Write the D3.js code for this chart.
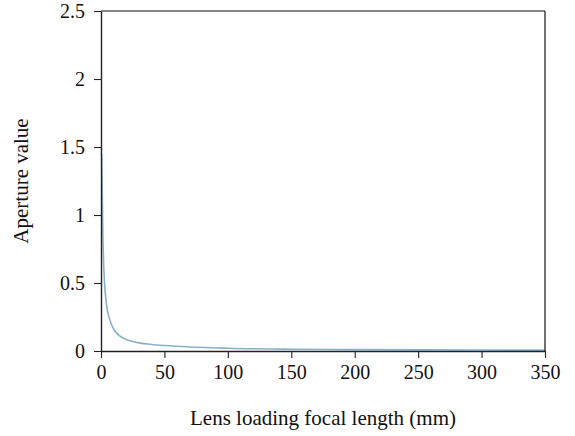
<!DOCTYPE html>
<html>
<head>
<meta charset="utf-8">
<script src="https://cdn.jsdelivr.net/npm/d3@7"></script>
<style>
  html, body { margin: 0; padding: 0; background: #fff; }
</style>
</head>
<body>
<svg id="chart" width="575" height="436"></svg>
<script>
// Data
const focalLength = [0.5, 0.8, 1, 1.5, 2, 2.5, 3, 4, 5, 6, 8, 10, 12, 15, 20, 25, 30, 40, 50, 70, 100, 150, 200, 250, 300, 350];
const apertureValue = [1.45, 1.3, 1.15, 0.85, 0.66, 0.55, 0.47, 0.37, 0.3, 0.26, 0.2, 0.16, 0.135, 0.11, 0.085, 0.07, 0.06, 0.048, 0.04, 0.029, 0.02, 0.013, 0.01, 0.008, 0.007, 0.006];
const xTicks = [0, 50, 100, 150, 200, 250, 300, 350];
const yTicks = [0, 0.5, 1, 1.5, 2, 2.5];
const xTitle = "Lens loading focal length (mm)";
const yTitle = "Aperture value";

(function () {
const FONT = "'Liberation Serif', 'Times New Roman', Times, 'DejaVu Serif', serif";
const svg = d3.select("#chart");
const mLeft = 101, mRight = 545, mTop = 11, mBottom = 351;

const x = d3.scaleLinear().domain([0, 350]).range([mLeft, mRight]);
const y = d3.scaleLinear().domain([0, 2.5]).range([mBottom, mTop]);

const line = d3.line()
  .x((d, i) => x(focalLength[i]))
  .y(d => y(d))
  .curve(d3.curveMonotoneX);

svg.append("path")
  .datum(apertureValue)
  .attr("d", line)
  .attr("fill", "none")
  .attr("stroke", "#8ab0c9")
  .attr("stroke-width", 1.6);

svg.append("line").attr("x1", mLeft).attr("x2", mRight).attr("y1", mTop).attr("y2", mTop)
  .attr("stroke", "#111").attr("stroke-width", 1.2);
svg.append("line").attr("x1", mRight).attr("x2", mRight).attr("y1", mTop).attr("y2", mBottom)
  .attr("stroke", "#111").attr("stroke-width", 1.2);

const fmt = d => String(d);
const xAxis = svg.append("g")
  .attr("transform", `translate(0,${mBottom})`)
  .call(d3.axisBottom(x).tickValues(xTicks).tickFormat(fmt).tickSize(7).tickSizeOuter(0).tickPadding(7));
const yAxis = svg.append("g")
  .attr("transform", `translate(${mLeft},0)`)
  .call(d3.axisLeft(y).tickValues(yTicks).tickFormat(fmt).tickSize(7).tickSizeOuter(0).tickPadding(9));

[xAxis, yAxis].forEach(g => {
  g.attr("font-family", FONT).attr("font-size", 20);
  g.select(".domain").attr("stroke", "#222").attr("stroke-width", 1.4);
  g.selectAll(".tick line").attr("stroke", "#222").attr("stroke-width", 1.1);
  g.selectAll(".tick text").attr("fill", "#111").attr("font-family", FONT).attr("font-size", 20);
});

svg.append("text")
  .attr("x", (mLeft + mRight) / 2)
  .attr("y", 425)
  .attr("text-anchor", "middle")
  .attr("font-family", FONT)
  .attr("font-size", 21)
  .attr("fill", "#111")
  .text(xTitle);

svg.append("text")
  .attr("transform", `translate(28,${(mTop + mBottom) / 2}) rotate(-90)`)
  .attr("text-anchor", "middle")
  .attr("font-family", FONT)
  .attr("font-size", 21)
  .attr("fill", "#111")
  .text(yTitle);
})();
</script>
</body>
</html>
